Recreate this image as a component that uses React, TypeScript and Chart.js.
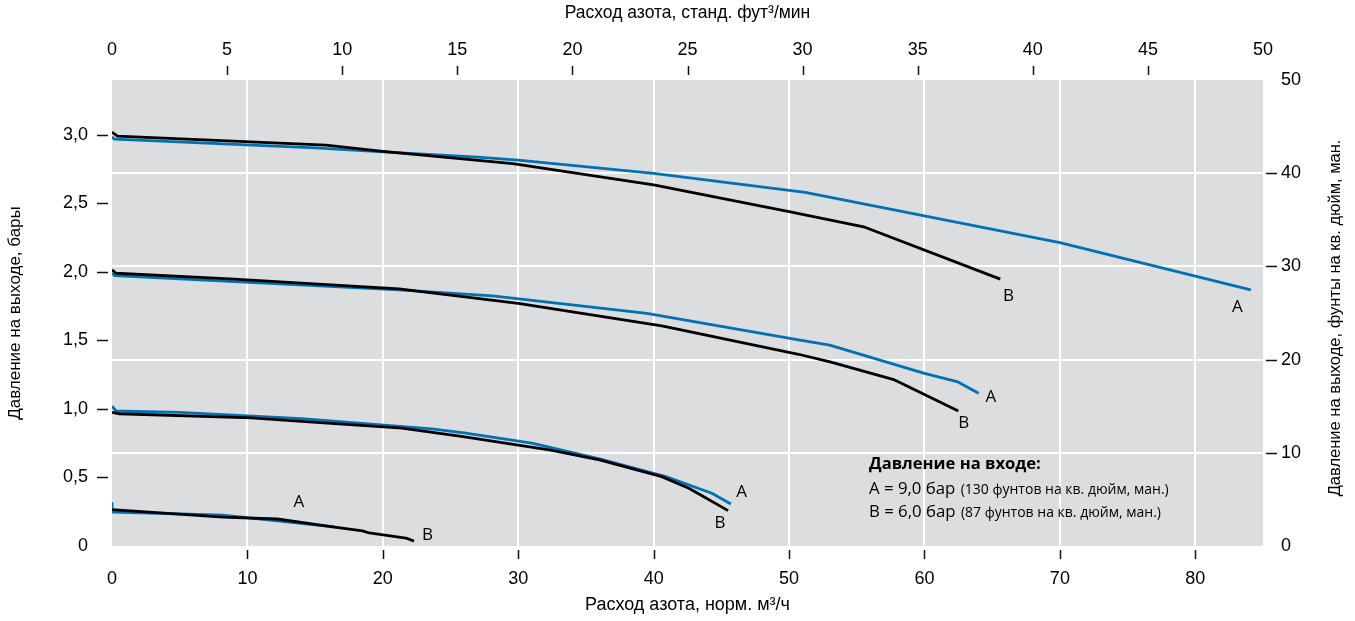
import React, { useEffect, useRef } from 'react';
import { Chart, registerables } from 'chart.js';

Chart.register(...registerables);

// ---- Data (flow in норм. м³/ч, outlet pressure in бар) ----
const flowHighB = [0, 0.4, 15.8, 20, 29.6, 40, 50, 55.6, 65.6];
const presHighB = [3.02, 2.99, 2.925, 2.88, 2.79, 2.635, 2.44, 2.326, 1.947];
const flowHighA = [0, 0.2, 15, 20, 27, 30, 40, 51.2, 70, 84.1];
const presHighA = [2.985, 2.968, 2.905, 2.875, 2.837, 2.815, 2.718, 2.58, 2.214, 1.869];

const flowMidB = [0, 0.3, 8.7, 21.2, 30, 40.6, 50.7, 53.1, 57.8, 62.5];
const presMidB = [2.015, 1.99, 1.949, 1.876, 1.771, 1.606, 1.399, 1.341, 1.212, 0.985];
const flowMidA = [0, 0.2, 21.2, 28.1, 39.5, 50.7, 53, 60, 62.4, 64];
const presMidA = [1.99, 1.973, 1.869, 1.825, 1.698, 1.504, 1.465, 1.26, 1.2, 1.115];

const flowLowB = [0, 0.5, 10.3, 14, 21.4, 25.8, 32.4, 36, 40.6, 42.6, 45.5];
const presLowB = [0.975, 0.965, 0.935, 0.91, 0.86, 0.8, 0.7, 0.628, 0.506, 0.421, 0.258];
const flowLowA = [0, 0.3, 5, 14, 23.6, 26, 31, 36, 40.9, 44.3, 45.7];
const presLowA = [1.02, 0.985, 0.975, 0.93, 0.855, 0.825, 0.75, 0.635, 0.506, 0.385, 0.307];

const flowMinB = [0, 8.2, 12.2, 16.3, 18.5, 19, 21.7, 22.3];
const presMinB = [0.265, 0.21, 0.197, 0.139, 0.11, 0.095, 0.058, 0.036];
const flowMinA = [0, 0, 8.2, 16.4];
const presMinA = [0.31, 0.248, 0.226, 0.139];

// ---- Ticks ----
const flowTicks = [0, 10, 20, 30, 40, 50, 60, 70, 80];
const scfmTicks = [0, 5, 10, 15, 20, 25, 30, 35, 40, 45, 50];
const barTicks = [0, 0.5, 1.0, 1.5, 2.0, 2.5, 3.0];
const barTickLabels = ['0', '0,5', '1,0', '1,5', '2,0', '2,5', '3,0'];
const psiTicks = [0, 10, 20, 30, 40, 50];

// ---- Curve annotations ----
const curveLabelText = ['B', 'A', 'A', 'B', 'A', 'B', 'A', 'B'];
const curveLabelFlow = [66.2, 83.1, 64.9, 62.9, 46.5, 44.9, 13.8, 23.3];
const curveLabelPres = [1.825, 1.745, 1.088, 0.898, 0.394, 0.168, 0.321, 0.08];

// ---- Texts ----
const titleBottom = 'Расход азота, норм. м³/ч';
const titleTop = 'Расход азота, станд. фут³/мин';
const titleLeft = 'Давление на выходе, бары';
const titleRight = 'Давление на выходе, фунты на кв. дюйм, ман.';
const legendTitle = 'Давление на входе:';
const legendMain = ['A = 9,0 бар', 'B = 6,0 бар'];
const legendNote = ['(130 фунтов на кв. дюйм, ман.)', '(87 фунтов на кв. дюйм, ман.)'];

const BLUE = '#0071b3';
const BLACK = '#000000';
const PLOT_BG = '#dcdddf';
const TICK_FONT = '"Liberation Sans", Arial, sans-serif';
const TEXT_FONT = '"Open Sans", "Noto Sans", sans-serif';

const pts = (xs: number[], ys: number[]) => xs.map((x, i) => ({ x, y: ys[i] }));

const series = [
  { name: 'B 3,0', xs: flowHighB, ys: presHighB, color: BLACK },
  { name: 'A 3,0', xs: flowHighA, ys: presHighA, color: BLUE },
  { name: 'B 2,0', xs: flowMidB, ys: presMidB, color: BLACK },
  { name: 'A 2,0', xs: flowMidA, ys: presMidA, color: BLUE },
  { name: 'B 1,0', xs: flowLowB, ys: presLowB, color: BLACK },
  { name: 'A 1,0', xs: flowLowA, ys: presLowA, color: BLUE },
  { name: 'B 0,25', xs: flowMinB, ys: presMinB, color: BLACK },
  { name: 'A 0,25', xs: flowMinA, ys: presMinA, color: BLUE },
];

const decorPlugin = {
  id: 'decor',
  beforeDraw(chart: any) {
    const { ctx, chartArea: a } = chart;
    ctx.save();
    ctx.fillStyle = PLOT_BG;
    ctx.fillRect(a.left, a.top, a.right - a.left, a.bottom - a.top);
    ctx.restore();
  },
  afterDraw(chart: any) {
    const { ctx, chartArea: a, scales } = chart;
    ctx.save();
    // tick marks
    ctx.strokeStyle = '#111';
    ctx.lineWidth = 1.5;
    ctx.beginPath();
    barTicks.forEach((v) => {
      if (v === 0) return;
      const y = Math.round(scales.y.getPixelForValue(v)) + 0.5;
      ctx.moveTo(a.left - 15, y);
      ctx.lineTo(a.left - 4, y);
    });
    psiTicks.forEach((v) => {
      if (v === 0 || v === 50) return;
      const y = Math.round(scales.y2.getPixelForValue(v)) + 0.5;
      ctx.moveTo(a.right + 3, y);
      ctx.lineTo(a.right + 14, y);
    });
    scfmTicks.forEach((v) => {
      if (v === 0 || v === 50) return;
      const x = Math.round(scales.x2.getPixelForValue(v)) + 0.5;
      ctx.moveTo(x, a.top - 14);
      ctx.lineTo(x, a.top - 5);
    });
    flowTicks.forEach((v) => {
      if (v === 0) return;
      const x = Math.round(scales.x.getPixelForValue(v)) + 0.5;
      ctx.moveTo(x, a.bottom + 4);
      ctx.lineTo(x, a.bottom + 13);
    });
    ctx.stroke();

    // right axis title (reads bottom to top)
    ctx.fillStyle = '#000';
    ctx.font = '16.5px ' + TICK_FONT;
    ctx.textAlign = 'center';
    ctx.textBaseline = 'middle';
    ctx.save();
    ctx.translate(1335, (a.top + a.bottom) / 2 + 5);
    ctx.rotate(-Math.PI / 2);
    ctx.fillText(titleRight, 0, 0);
    ctx.restore();

    // curve labels
    ctx.font = '17px ' + TEXT_FONT;
    ctx.textAlign = 'center';
    ctx.textBaseline = 'middle';
    curveLabelText.forEach((t, i) => {
      const x = scales.x.getPixelForValue(curveLabelFlow[i]);
      const y = scales.y.getPixelForValue(curveLabelPres[i]);
      ctx.fillText(t, x, y);
    });

    // legend block
    const lx = scales.x.getPixelForValue(55.9);
    const ly = scales.y.getPixelForValue(0.562);
    ctx.textAlign = 'left';
    ctx.textBaseline = 'alphabetic';
    ctx.font = 'bold 16.6px ' + TEXT_FONT;
    ctx.fillText(legendTitle, lx, ly);
    legendMain.forEach((m, i) => {
      const y = ly + 25 + i * 23;
      ctx.font = '16.8px ' + TEXT_FONT;
      ctx.fillText(m, lx, y);
      const w = ctx.measureText(m + ' ').width;
      ctx.font = '14px ' + TEXT_FONT;
      ctx.fillText(legendNote[i], lx + w + 1, y);
    });
    ctx.restore();
  },
};

export default function App() {
  const ref = useRef<HTMLCanvasElement | null>(null);

  useEffect(() => {
    if (!ref.current) return;
    const gridColor = (ends: number[]) => (c: any) =>
      ends.includes(c.tick?.value) ? 'rgba(0,0,0,0)' : '#ffffff';
    const chart = new Chart(ref.current, {
      type: 'scatter',
      data: {
        datasets: series.map((s) => ({
          label: s.name,
          data: pts(s.xs, s.ys),
          showLine: true,
          borderColor: s.color,
          backgroundColor: s.color,
          borderWidth: 2.8,
          pointRadius: 0,
          pointHoverRadius: 0,
          tension: 0,
          borderJoinStyle: 'round' as const,
          order: s.color === BLACK ? 0 : 1,
          xAxisID: 'x',
          yAxisID: 'y',
        })),
      },
      options: {
        responsive: false,
        animation: false,
        devicePixelRatio: 1,
        layout: { padding: 0 },
        plugins: {
          legend: { display: false },
          tooltip: { enabled: false },
          title: { display: false },
        },
        scales: {
          x: {
            type: 'linear',
            position: 'bottom',
            min: 0,
            max: 85,
            afterBuildTicks: (s: any) => {
              s.ticks = flowTicks.map((v) => ({ value: v }));
            },
            afterFit: (s: any) => {
              s.height = 75;
            },
            ticks: {
              font: { family: TICK_FONT, size: 18 },
              color: '#000',
              padding: 22,
              maxRotation: 0,
              callback: (v: any) => String(v),
            },
            grid: { color: gridColor([0]), lineWidth: 2, drawTicks: false },
            border: { display: false },
            title: {
              display: true,
              text: titleBottom,
              color: '#000',
              font: { family: TICK_FONT, size: 18 },
              padding: { top: 0, bottom: 5 },
            },
          },
          x2: {
            type: 'linear',
            position: 'top',
            min: 0,
            max: 50,
            afterBuildTicks: (s: any) => {
              s.ticks = scfmTicks.map((v) => ({ value: v }));
            },
            afterFit: (s: any) => {
              s.height = 80;
            },
            ticks: {
              font: { family: TICK_FONT, size: 18 },
              color: '#000',
              padding: 19,
              maxRotation: 0,
              callback: (v: any) => String(v),
            },
            grid: { display: false, drawTicks: false },
            border: { display: false },
            title: {
              display: true,
              text: titleTop,
              color: '#000',
              font: { family: TICK_FONT, size: 17.5 },
              padding: { top: 3, bottom: 0 },
            },
          },
          y: {
            type: 'linear',
            position: 'left',
            min: 0,
            max: 3.4,
            afterBuildTicks: (s: any) => {
              s.ticks = barTicks.map((v) => ({ value: v }));
            },
            afterFit: (s: any) => {
              s.width = 112;
            },
            ticks: {
              font: { family: TICK_FONT, size: 18 },
              color: '#000',
              padding: 24,
              callback: (v: any) => {
                const i = barTicks.indexOf(Number(v));
                return i >= 0 ? barTickLabels[i] : '';
              },
            },
            grid: { display: false, drawTicks: false },
            border: { display: false },
            title: {
              display: true,
              text: titleLeft,
              color: '#000',
              font: { family: TICK_FONT, size: 17 },
              padding: { top: 5, bottom: 0 },
            },
          },
          y2: {
            type: 'linear',
            position: 'right',
            min: 0,
            max: 50,
            afterBuildTicks: (s: any) => {
              s.ticks = psiTicks.map((v) => ({ value: v }));
            },
            afterFit: (s: any) => {
              s.width = 92;
            },
            ticks: {
              font: { family: TICK_FONT, size: 18 },
              color: '#000',
              padding: 18,
              callback: (v: any) => String(v),
            },
            grid: { color: gridColor([0, 50]), lineWidth: 2, drawTicks: false },
            border: { display: false },
          },
        },
      } as any,
      plugins: [decorPlugin],
    });
    return () => chart.destroy();
  }, []);

  return (
    <div style={{ position: 'absolute', left: 0, top: 0, width: 1355, height: 621, background: '#fff' }}>
      <canvas ref={ref} width={1355} height={621} style={{ display: 'block', width: 1355, height: 621 }} />
    </div>
  );
}
